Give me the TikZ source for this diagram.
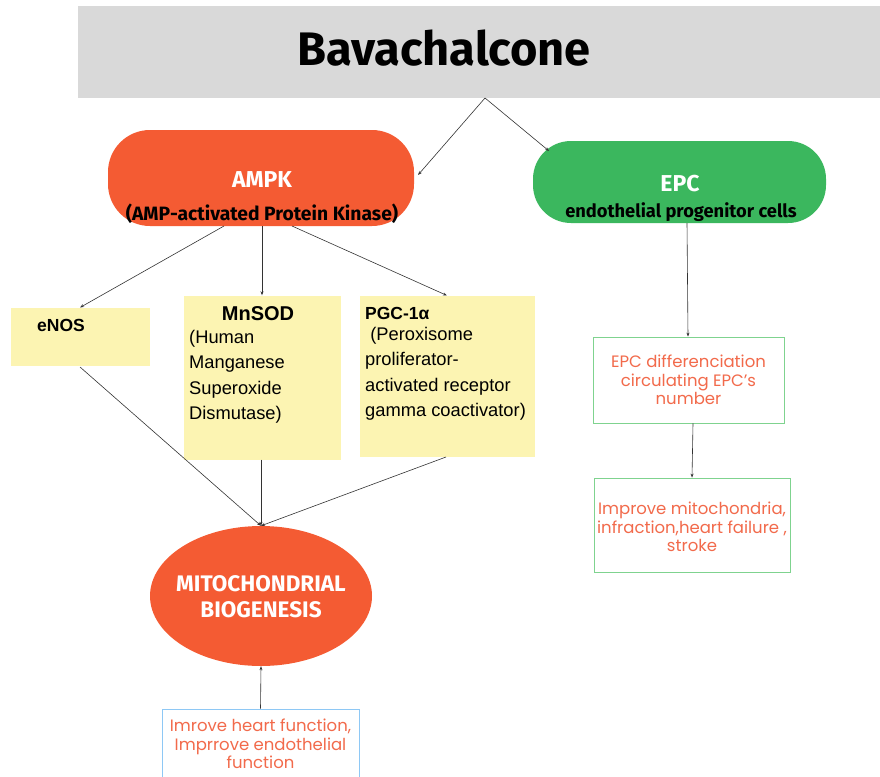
\documentclass[tikz,border=0pt]{standalone}
\usepackage{fontspec}
\setmainfont{Liberation Sans}
\newfontfamily\headfont{Fira Sans}
\newfontfamily\notefont{Poppins}
\usetikzlibrary{arrows.meta,shapes.geometric}

\definecolor{greybar}{HTML}{D9D9D9}
\definecolor{ampkorange}{HTML}{F45B33}
\definecolor{epcgreen}{HTML}{3BB75E}
\definecolor{noteyellow}{HTML}{FCF4B2}
\definecolor{noteorange}{HTML}{F26A4B}
\definecolor{linegreen}{HTML}{7FD38F}
\definecolor{lineblue}{HTML}{8EC8F5}

\begin{document}
\begin{tikzpicture}[x=1pt,y=-1pt]
\clip (0,0) rectangle (880,776);

\tikzset{
  pill_s/.style = {draw=none, inner sep=0pt, minimum width=#1},
  note_s/.style = {fill=noteyellow, draw=none, inner sep=0pt},
  out_s/.style  = {draw, thick, fill=white, inner sep=0pt},
  red_t/.style  = {align=center, text=noteorange, font=\notefont\fontsize{16.5}{18.5}\selectfont},
  body_t/.style = {align=left, anchor=north west, inner sep=0pt,
    font=\fontsize{18.3}{25.5}\selectfont},
  arr/.style    = {-{Stealth[length=4pt,width=3pt]}, semithick, black!80}
}

% top bar
\node [fill=greybar, minimum width=802, minimum height=92, inner sep=0pt]
  (bar) at (479,52) {};
\node [font=\headfont\bfseries\fontsize{47}{52}\selectfont] (bava) at (444,48) {Bavachalcone};
\coordinate (fork) at (485,98);

% the two branches
\node [pill_s=306, minimum height=96, fill=ampkorange, rounded corners=42]
  (ampk) at (261,178) {};
\node [text=white, font=\headfont\bfseries\fontsize{23}{26}\selectfont] (ampkname) at (262,180) {AMPK};
\node [font=\headfont\bfseries\fontsize{19.3}{22}\selectfont] (ampklong) at (262,214)
  {(AMP-activated Protein Kinase)};

\node [pill_s=293, minimum height=82, fill=epcgreen, rounded corners=38]
  (epc) at (679.5,182) {};
\node [text=white, font=\headfont\bfseries\fontsize{23}{26}\selectfont] (epcname) at (680,184) {EPC};
\node [font=\headfont\bfseries\fontsize{18.3}{21}\selectfont] (epclong) at (681,212)
  {endothelial progenitor cells};

\coordinate (ampkin) at (418,175);
\coordinate (epcin) at (549,151);
\draw [arr] (fork) -- (ampkin);
\draw [arr] (fork) -- (epcin);

% yellow notes
\node [note_s, minimum width=139, minimum height=58] (enos) at (80.5,337) {};
\node [font=\bfseries\fontsize{17.5}{20}\selectfont, anchor=west, inner sep=0pt]
  (enost) at (37,325) {eNOS};

\node [note_s, minimum width=157, minimum height=164] (mnsod) at (262.5,377.5) {};
\node [font=\bfseries\fontsize{20}{23}\selectfont] (mnsodt) at (258,314) {MnSOD};
\node [body_t] (mnsodb) at (189,330)
  {(Human\\Manganese\\Superoxide\\Dismutase)};

\node [note_s, minimum width=175, minimum height=161] (pgc) at (447.5,376) {};
\node [font=\bfseries\fontsize{17.5}{20}\selectfont, anchor=west, inner sep=0pt]
  (pgct) at (365,313) {PGC-1α};
\node [body_t] (pgcb) at (365,327)
  {\ (Peroxisome\\proliferator-\\activated receptor\\gamma coactivator)};

\coordinate (ampka) at (224,226);
\coordinate (ampkb) at (262,226);
\coordinate (ampkc) at (292,226);
\draw [arr] (ampka) -- (80,307.5);
\draw [arr] (ampkb) -- (mnsod.north -| ampkb);
\draw [arr] (ampkc) -- (447,295.5);

% mitochondrial biogenesis
\node [ellipse, fill=ampkorange, minimum width=222, minimum height=140, inner sep=0pt]
  (mito) at (261,596) {};
\node [align=center, text=white, font=\headfont\bfseries\fontsize{22.5}{26}\selectfont]
  (mitot) at (261,597) {MITOCHONDRIAL\\BIOGENESIS};

\coordinate (enosout) at (80,367);
\coordinate (pgcout) at (446,457);
\draw [arr] (enosout) -- (mito.north);
\draw [arr] (mnsod.south -| mito.north) -- (mito.north);
\draw [arr] (pgcout) -- (mito.north);

\node [out_s, draw=lineblue, minimum width=197, minimum height=90] (heart) at (260.5,754) {};
\node [red_t] (heartt) at (260.5,744)
  {Imrove heart function,\\Imprrove endothelial\\function};
\draw [arr] (heart.north) -- (mito.south);

% EPC side
\node [out_s, draw=linegreen, minimum width=191, minimum height=86] (diff) at (688.5,380) {};
\node [red_t] (difft) at (688.5,380)
  {EPC differenciation\\circulating EPC’s\\number};

\node [out_s, draw=linegreen, minimum width=196, minimum height=94] (improve) at (692,525) {};
\node [red_t] (improvet) at (692,527)
  {Improve mitochondria,\\infraction,heart failure ,\\stroke};

\draw [arr] (epc.south -| 687,0) -- (diff.north -| 688,0);
\draw [arr] (diff.south -| 693,0) -- (improve.north -| 692,0);

\end{tikzpicture}
\end{document}
